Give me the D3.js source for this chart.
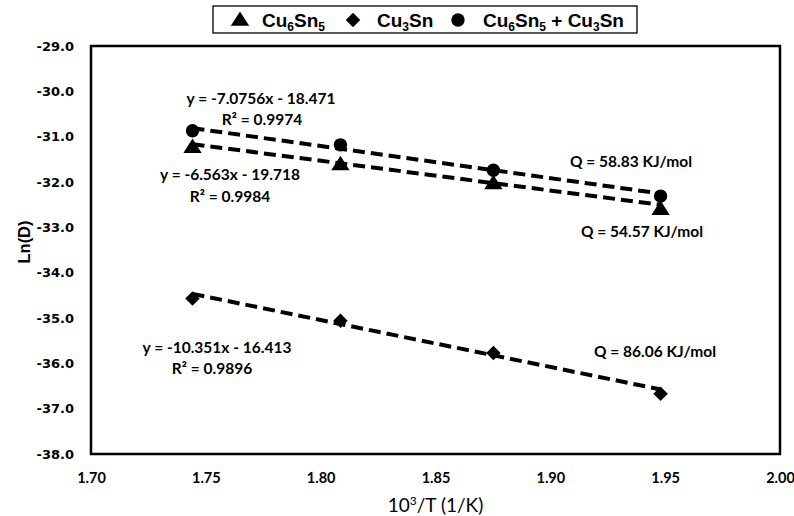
<!DOCTYPE html>
<html><head><meta charset="utf-8">
<script src="https://cdn.jsdelivr.net/npm/d3@7"></script>
<style>body{margin:0;background:#fff}svg{display:block}</style>
</head><body>
<svg id="c" width="794" height="516"></svg>
<script>
const xValues = [1.7442, 1.8086, 1.8752, 1.9480];
const seriesNames = ["Cu6Sn5", "Cu3Sn", "Cu6Sn5 + Cu3Sn"];
const cu6sn5 = [-31.23, -31.61, -32.03, -32.60];
const cu3sn = [-34.57, -35.06, -35.77, -36.67];
const mixed = [-30.87, -31.18, -31.74, -32.31];
const slopes = [-6.563, -10.351, -7.0756];
const intercepts = [-19.718, -16.413, -18.471];
const xTicks = [1.70, 1.75, 1.80, 1.85, 1.90, 1.95, 2.00];
const yTicks = [-29, -30, -31, -32, -33, -34, -35, -36, -37, -38];

const svg = d3.select("#c");
const m = {l: 91, r: 780, t: 46, b: 454};
const x = d3.scaleLinear().domain([1.70, 2.00]).range([m.l, m.r]);
const y = d3.scaleLinear().domain([-38, -29]).range([m.b, m.t]);

const calib = "Lato, 'Open Sans', sans-serif";

// axes labels
const yAxis = d3.axisLeft(y).tickValues(yTicks).tickFormat(d => d.toFixed(1)).tickSize(0).tickPadding(17);
const gy = svg.append("g").attr("transform", `translate(${m.l},0)`).call(yAxis);
gy.select(".domain").remove();
gy.selectAll("text").attr("font-family", "'DejaVu Sans', sans-serif").attr("font-weight", "bold").attr("font-size", 13).attr("fill", "#000");

const xAxis = d3.axisBottom(x).tickValues(xTicks).tickFormat(d => d.toFixed(2)).tickSize(0).tickPadding(19);
const gx = svg.append("g").attr("transform", `translate(0,${m.b})`).call(xAxis);
gx.select(".domain").remove();
gx.selectAll("text").attr("font-family", calib).attr("font-weight", "bold").attr("font-size", 14.5).attr("fill", "#000");

// plot border
svg.append("rect").attr("x", m.l).attr("y", m.t).attr("width", m.r - m.l).attr("height", m.b - m.t)
  .attr("fill", "none").attr("stroke", "#000").attr("stroke-width", 2.5);

// titles
svg.append("text").attr("x", (m.l + m.r) / 2).attr("y", 512).attr("text-anchor", "middle")
  .attr("font-family", calib).attr("font-size", 19).attr("fill", "#000")
  .html('10<tspan dy="-7" font-size="12">3</tspan><tspan dy="7">/T (1/K)</tspan>');
svg.append("text").attr("transform", "translate(30,242) rotate(-90)").attr("text-anchor", "middle")
  .attr("font-family", "'Liberation Sans', Arial, sans-serif").attr("font-weight", "bold").attr("font-size", 16.5).attr("fill", "#000")
  .text("Ln(D)");

// trendlines
const data = [cu6sn5, cu3sn, mixed];
const line = d3.line().x(d => x(d[0])).y(d => y(d[1]));
const xMin = d3.min(xValues), xMax = d3.max(xValues);
data.forEach((s, i) => {
  const pts = [xMin, xMax].map(v => [v, slopes[i] * v + intercepts[i]]);
  svg.append("path").attr("d", line(pts)).attr("fill", "none").attr("stroke", "#000")
    .attr("stroke-width", 4).attr("stroke-dasharray", "12,6");
});

// markers
const shapes = [d3.symbolTriangle, d3.symbolSquare, d3.symbolCircle];
const sizes = [120, 105, 140];
function marker(g, i) {
  g.append("path").attr("d", d3.symbol().type(shapes[i]).size(sizes[i])()).attr("fill", "#000")
    .attr("transform", i === 1 ? "rotate(45)" : (i === 0 ? "translate(0,1) scale(1.1,1)" : ""));
}
data.forEach((s, i) => {
  s.forEach((v, j) => {
    const g = svg.append("g").attr("transform", `translate(${x(xValues[j])},${y(v)})`);
    marker(g, i);
  });
});

// annotations
const ann = [
  {t: "y = -7.0756x - 18.471", x: 261, y: 104},
  {t: "R² = 0.9974", x: 262, y: 125},
  {t: "y = -6.563x - 19.718", x: 230, y: 180},
  {t: "R² = 0.9984", x: 230, y: 202},
  {t: "Q = 58.83 KJ/mol", x: 631, y: 167},
  {t: "Q = 54.57 KJ/mol", x: 642, y: 237},
  {t: "y = -10.351x - 16.413", x: 217, y: 353},
  {t: "R² = 0.9896", x: 212, y: 374},
  {t: "Q = 86.06 KJ/mol", x: 655, y: 357}
];
ann.forEach(a => {
  svg.append("text").attr("x", a.x).attr("y", a.y).attr("text-anchor", "middle")
    .attr("font-family", calib).attr("font-weight", "bold").attr("font-size", 15.5).attr("fill", "#000").text(a.t);
});

// legend
svg.append("rect").attr("x", 213).attr("y", 6).attr("width", 424).attr("height", 27)
  .attr("fill", "#fff").attr("stroke", "#000").attr("stroke-width", 1.3);
const legItems = [
  {mx: 240, tx: 262, parts: [["Cu", 0], ["6", 1], ["Sn", 0], ["5", 1]]},
  {mx: 353, tx: 377, parts: [["Cu", 0], ["3", 1], ["Sn", 0]]},
  {mx: 458, tx: 483, parts: [["Cu", 0], ["6", 1], ["Sn", 0], ["5", 1], [" + Cu", 0], ["3", 1], ["Sn", 0]]}
];
legItems.forEach((it, i) => {
  const g = svg.append("g").attr("transform", `translate(${it.mx},20)`);
  marker(g, i);
  const t = svg.append("text").attr("x", it.tx).attr("y", 27)
    .attr("font-family", "'Liberation Sans', Arial, sans-serif").attr("font-weight", "bold").attr("font-size", 19).attr("fill", "#000")
    .attr("xml:space", "preserve");
  let prevSub = false;
  it.parts.forEach(p => {
    const sub = p[1];
    const dy = sub && !prevSub ? 4 : (!sub && prevSub ? -4 : 0);
    t.append("tspan").attr("font-size", sub ? 12 : 19).attr("dy", dy).text(p[0]);
    prevSub = sub;
  });
});
</script>
</body></html>
